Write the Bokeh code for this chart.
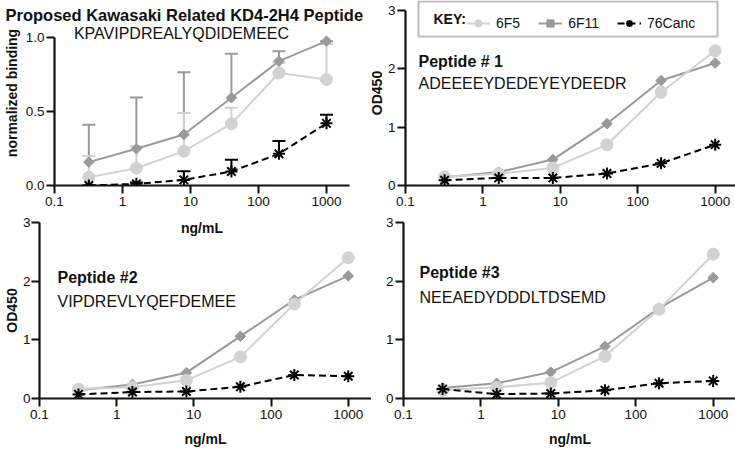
from bokeh.plotting import figure
from bokeh.models import (ColumnDataSource, FixedTicker, CustomJSTickFormatter, Label,
                          Legend, LegendItem, Whisker, TeeHead, Range1d, BoxAnnotation)
from bokeh.layouts import row, column
from bokeh.embed import file_html
from bokeh.resources import INLINE
import math

# ---------------- data ----------------
conc = [0.32, 1.6, 8, 40, 200, 1000]          # ng/mL
x_ticks = [0.1, 1, 10, 100, 1000]
series = ["6F5", "6F11", "76Canc"]

# Proposed Kawasaki Related KD4-2H4 peptide (normalized binding, mean and upper SD)
kd_6f5 = [0.056, 0.117, 0.232, 0.417, 0.760, 0.716]
kd_6f5_err = [0.144, 0.150, 0.258, 0.108, 0.070, 0.240]
kd_6f11 = [0.158, 0.248, 0.345, 0.593, 0.840, 0.975]
kd_6f11_err = [0.252, 0.346, 0.421, 0.297, 0.067, 0.0]
kd_76 = [0.0, 0.011, 0.038, 0.095, 0.214, 0.420]
kd_76_err = [0.0, 0.010, 0.059, 0.079, 0.086, 0.058]

# Peptide # 1 (OD450)
p1_6f5 = [0.15, 0.20, 0.30, 0.70, 1.60, 2.31]
p1_6f11 = [0.14, 0.23, 0.445, 1.06, 1.80, 2.10]
p1_76 = [0.09, 0.13, 0.13, 0.205, 0.38, 0.70]

# Peptide #2 (OD450)
p2_6f5 = [0.16, 0.19, 0.31, 0.71, 1.61, 2.40]
p2_6f11 = [0.14, 0.24, 0.44, 1.06, 1.68, 2.09]
p2_76 = [0.07, 0.11, 0.12, 0.20, 0.40, 0.38]

# Peptide #3 (OD450)
p3_6f5 = [0.14, 0.19, 0.27, 0.72, 1.52, 2.46]
p3_6f11 = [0.18, 0.26, 0.45, 0.89, 1.54, 2.06]
p3_76 = [0.16, 0.075, 0.085, 0.14, 0.26, 0.30]

# ---------------- style ----------------
FONT = "Liberation Sans"
C_6F5 = "#d2d2d2"
C_6F11 = "#9a9a9a"
C_76 = "#000000"
TXT = "#111111"


def make_panel(frame_w, frame_h, x_end, y_end, y_bound, y_ticks, y_dec,
               mb_left, mb_right, mb_top, mb_bottom,
               xlabel, ylabel, xl_standoff, yl_standoff, tick_standoff=2):
    p = figure(x_axis_type="log", x_range=Range1d(0.1, x_end), y_range=Range1d(0, y_end),
               frame_width=frame_w, frame_height=frame_h,
               min_border_left=mb_left, min_border_right=mb_right,
               min_border_top=mb_top, min_border_bottom=mb_bottom,
               output_backend="svg", toolbar_location=None)
    p.grid.visible = False
    p.outline_line_color = None
    p.border_fill_alpha = 0
    p.background_fill_alpha = 0
    xa = p.xaxis[0]
    ya = p.yaxis[0]
    xa.ticker = FixedTicker(ticks=x_ticks, minor_ticks=[])
    xa.formatter = CustomJSTickFormatter(code="return tick < 1 ? tick.toFixed(1) : tick.toFixed(0);")
    ya.ticker = FixedTicker(ticks=y_ticks, minor_ticks=[])
    ya.formatter = CustomJSTickFormatter(code="return tick.toFixed(%d);" % y_dec)
    ya.bounds = (0, y_bound)
    for a in (xa, ya):
        a.axis_line_width = 2.2
        a.axis_line_color = TXT
        a.major_tick_line_width = 2
        a.major_tick_line_color = TXT
        a.major_tick_out = 8
        a.major_tick_in = 0
        a.minor_tick_out = 0
        a.minor_tick_in = 0
        a.major_label_text_font = FONT
        a.major_label_text_font_size = "13.5px"
        a.major_label_text_color = TXT
        a.major_label_standoff = 3
        a.axis_label_text_font = FONT
        a.axis_label_text_font_style = "bold"
        a.axis_label_text_font_size = "14px"
        a.axis_label_text_color = TXT
    ya.major_label_standoff = tick_standoff
    if xlabel:
        xa.axis_label = xlabel
        xa.axis_label_standoff = xl_standoff
    if ylabel:
        ya.axis_label = ylabel
        ya.axis_label_standoff = yl_standoff
    return p


def add_series(p, y6f5, y6f11, y76):
    r = {}
    r["6F11_line"] = p.line(conc, y6f11, line_color=C_6F11, line_width=2)
    r["6F11_pts"] = p.scatter(conc, y6f11, marker="square", size=7.5, angle=math.pi / 4,
                              fill_color=C_6F11, line_color=C_6F11)
    r["6F5_line"] = p.line(conc, y6f5, line_color=C_6F5, line_width=2)
    r["6F5_pts"] = p.scatter(conc, y6f5, marker="circle", size=12,
                             fill_color=C_6F5, line_color=C_6F5)
    r["76_line"] = p.line(conc, y76, line_color=C_76, line_width=2, line_dash="7 4")
    r["76_pts"] = p.scatter(conc, y76, marker="asterisk", size=12,
                            line_color=C_76, line_width=2)
    return r


def add_errors(p, y, err, color):
    src = ColumnDataSource(dict(x=conc, lower=y, upper=[a + b for a, b in zip(y, err)]))
    w = Whisker(source=src, base="x", lower="lower", upper="upper", dimension="height",
                line_color=color, line_width=2,
                upper_head=TeeHead(size=13, line_color=color, line_width=2),
                lower_head=None, level="underlay")
    p.add_layout(w)


def add_text(p, x, y, text, bold=False, size="16px", align="left"):
    p.add_layout(Label(x=x, y=y, x_units="screen", y_units="screen", text=text,
                       text_font=FONT, text_font_size=size,
                       text_font_style="bold" if bold else "normal",
                       text_color=TXT, text_align=align, text_baseline="middle"))


# ---------------- header of top-left panel ----------------
head = figure(frame_width=364, frame_height=45, min_border=0,
              x_range=Range1d(0, 1), y_range=Range1d(0, 1),
              x_axis_location=None, y_axis_location=None,
              output_backend="svg", toolbar_location=None)
head.grid.visible = False
head.outline_line_color = None
head.border_fill_alpha = 0
head.background_fill_alpha = 0
add_text(head, 5, 31, "Proposed Kawasaki Related KD4-2H4 Peptide", bold=True, size="16.5px")
add_text(head, 181, 12, "KPAVIPDREALYQDIDEMEEC", align="center")

# ---------------- top-left ----------------
pa = make_panel(295, 185, 2180, 1.25, 1.0, [0, 0.5, 1.0], 1,
                53, 16, 0, 57, "ng/mL", "normalized binding", 11, 3)
add_errors(pa, kd_6f11, kd_6f11_err, C_6F11)
add_errors(pa, kd_6f5, kd_6f5_err, C_6F5)
add_errors(pa, kd_76, kd_76_err, C_76)
add_series(pa, kd_6f5, kd_6f11, kd_76)

# ---------------- top-right ----------------
pb = make_panel(333, 185, 2000, 3.172, 3, [0, 1, 2, 3], 0,
                38, 0, 0, 57, None, "OD450", 0, 0)
rb = add_series(pb, p1_6f5, p1_6f11, p1_76)
add_text(pb, 13, 124, "Peptide # 1", bold=True)
add_text(pb, 13, 102, "ADEEEEYDEDEYEYDEEDR")

key_box = BoxAnnotation(left=13, right=312, bottom=149, top=184,
                        left_units="screen", right_units="screen",
                        bottom_units="screen", top_units="screen",
                        fill_color="white", fill_alpha=1,
                        line_color="#222222", line_width=2)
pb.add_layout(key_box)
add_text(pb, 28, 167, "KEY:", bold=True, size="14px")

legend = Legend(items=[
    LegendItem(label="6F5", renderers=[rb["6F5_line"], rb["6F5_pts"]]),
    LegendItem(label="6F11", renderers=[rb["6F11_line"], rb["6F11_pts"]]),
    LegendItem(label="76Canc", renderers=[rb["76_line"], rb["76_pts"]]),
], location=(61, 153), orientation="horizontal")
legend.label_text_font = FONT
legend.label_text_font_size = "14px"
legend.label_text_color = TXT
legend.label_standoff = 6
legend.glyph_width = 24
legend.glyph_height = 18
legend.label_height = 18
legend.spacing = 18
legend.padding = 4
legend.margin = 0
legend.border_line_color = None
legend.background_fill_alpha = 0
pb.add_layout(legend)

# ---------------- bottom-left ----------------
pc = make_panel(332, 176, 2000, 3, 3, [0, 1, 2, 3], 0,
                38, 0, 17, 51, "ng/mL", "OD450", 9, 0, tick_standoff=1)
add_series(pc, p2_6f5, p2_6f11, p2_76)
add_text(pc, 18, 121, "Peptide #2", bold=True)
add_text(pc, 18, 97, "VIPDREVLYQEFDEMEE")

# ---------------- bottom-right ----------------
pd_ = make_panel(333, 176, 2000, 3, 3, [0, 1, 2, 3], 0,
                 32, 0, 17, 51, "ng/mL", None, 9, 0)
add_series(pd_, p3_6f5, p3_6f11, p3_76)
add_text(pd_, 16, 126, "Peptide #3", bold=True)
add_text(pd_, 16, 101, "NEEAEDYDDDLTDSEMD")

head_row = row(head)
top = row(pa, pb, margin=(-45, 0, 0, 0))
bottom = row(pc, pd_, margin=(-37, 0, 0, 0))
layout = column(head_row, top, bottom)

open("out.html", "w").write(file_html(layout, INLINE))
